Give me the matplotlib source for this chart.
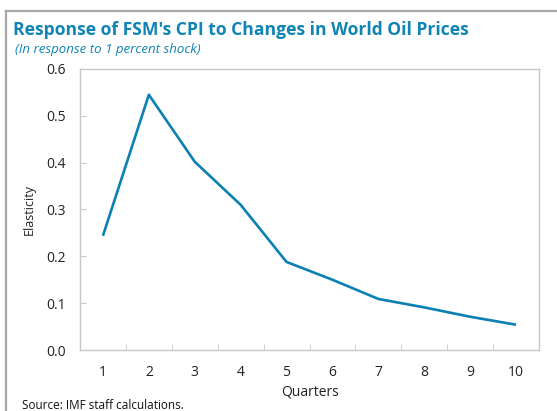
import matplotlib
matplotlib.use("Agg")
import matplotlib.pyplot as plt
from matplotlib.lines import Line2D

quarters = [1, 2, 3, 4, 5, 6, 7, 8, 9, 10]
elasticity = [0.244, 0.545, 0.402, 0.310, 0.188, 0.150, 0.109, 0.091, 0.071, 0.054]
yticks = [0.0, 0.1, 0.2, 0.3, 0.4, 0.5, 0.6]

plt.rcParams['font.family'] = ['Open Sans', 'DejaVu Sans']
blue = '#0f84b5'

fig = plt.figure(figsize=(5.57, 4.11), dpi=100)
ax = fig.add_axes([80/557, 1-350/411, 459/557, 281/411])
ax.plot(quarters, elasticity, color='#0a80b3', lw=1.9, solid_capstyle='butt')
ax.set_xlim(0.5, 10.5)
ax.set_ylim(0, 0.6)
ax.set_yticks(yticks)
ax.set_yticklabels([f"{v:.1f}" for v in yticks])
ax.set_xticks(quarters)
ax.set_xticks([q + 0.5 for q in quarters[:-1]], minor=True)
ax.tick_params(axis='x', which='major', length=0, pad=11, labelsize=10, colors='#222222')
ax.tick_params(axis='x', which='minor', length=4, direction='in', color='#c8c8c8')
ax.tick_params(axis='y', length=4, direction='in', color='#c8c8c8', labelsize=10, labelcolor='#222222', pad=10)
for s in ax.spines.values():
    s.set_color('#c8c8c8')
    s.set_linewidth(1.0)
ax.set_ylabel('Elasticity', fontsize=9, color='#222222', labelpad=8)

fig.text(310/557, 1-392/411, 'Quarters', ha='center', va='center', fontsize=10, color='#222222')
fig.text(13/557, 1-30/411, "Response of FSM's CPI to Changes in World Oil Prices",
         ha='left', va='center', fontsize=12.6, fontweight='bold', color=blue)
fig.text(15/557, 1-50/411, "(In response to 1 percent shock)", ha='left', va='center',
         fontsize=9.5, style='italic', color=blue)
fig.text(22/557, 1-405/411, "Source: IMF staff calculations.", ha='left', va='center',
         fontsize=8.5, color='#111111')

fig.add_artist(Line2D([6/557, 6/557], [0, 1-11/411], transform=fig.transFigure, color='#a8a8a8', lw=1.6))
fig.add_artist(Line2D([6/557, 1], [1-11/411, 1-11/411], transform=fig.transFigure, color='#a8a8a8', lw=1.6))

fig.savefig('out.png', dpi=100)
